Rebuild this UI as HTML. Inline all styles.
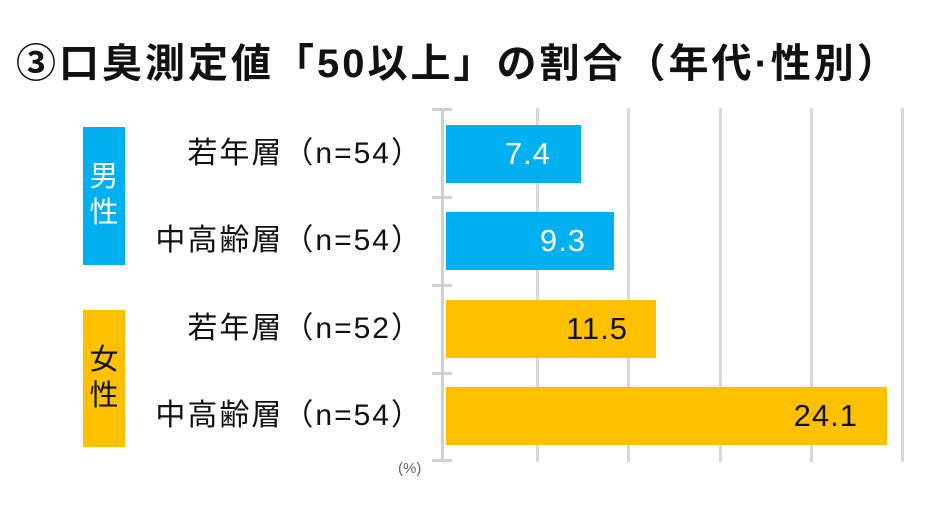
<!DOCTYPE html>
<html><head><meta charset="utf-8"><style>
body{margin:0;width:943px;height:512px;background:#fff;overflow:hidden;position:relative;font-family:"Liberation Sans","Noto Sans CJK JP",sans-serif}
.a{position:absolute}
.t{left:16px;top:36px;font-size:40px;font-weight:bold;color:#111;white-space:nowrap;letter-spacing:3px;line-height:56px}
.g{background:#d9d9d9;width:3px;top:108px;height:354px}
.bar{position:absolute;left:446px;height:58px}
.lab{position:absolute;right:520px;font-size:30px;color:#111;white-space:nowrap;line-height:58px;letter-spacing:2px}
.v{position:absolute;font-size:31px;line-height:58px;text-align:right;letter-spacing:1px}
.box{position:absolute;left:83px;width:42px;color:#fff;font-size:29px;text-align:center;line-height:36px}
</style></head><body>
<div class="a t">③口臭測定値「50以上」の割合（年代·性別）</div>
<div class="a g" style="left:536px"></div>
<div class="a g" style="left:627px"></div>
<div class="a g" style="left:719px"></div>
<div class="a g" style="left:810px"></div>
<div class="a g" style="left:901px"></div>
<div class="a" style="left:441px;top:108px;width:3px;height:354px;background:#d0d0d0"></div>
<div class="a" style="left:432px;top:108px;width:20px;height:3px;background:#d0d0d0"></div>
<div class="a" style="left:432px;top:196px;width:20px;height:3px;background:#d0d0d0"></div>
<div class="a" style="left:432px;top:284px;width:20px;height:3px;background:#d0d0d0"></div>
<div class="a" style="left:432px;top:372px;width:20px;height:3px;background:#d0d0d0"></div>
<div class="a" style="left:432px;top:459px;width:20px;height:3px;background:#d0d0d0"></div>
<div class="bar" style="top:125px;width:135px;background:#00b0f0"></div>
<div class="bar" style="top:212px;width:168px;background:#00b0f0"></div>
<div class="bar" style="top:300px;width:210px;background:#ffc000"></div>
<div class="bar" style="top:387px;width:441px;background:#ffc000"></div>
<div class="v" style="top:125px;left:446px;width:105px;color:#fff">7.4</div>
<div class="v" style="top:212px;left:446px;width:140px;color:#fff">9.3</div>
<div class="v" style="top:300px;left:446px;width:182px;color:#111">11.5</div>
<div class="v" style="top:387px;left:446px;width:412px;color:#111">24.1</div>
<div class="lab" style="top:125px">若年層（n=54）</div>
<div class="lab" style="top:212px">中高齢層（n=54）</div>
<div class="lab" style="top:300px">若年層（n=52）</div>
<div class="lab" style="top:387px">中高齢層（n=54）</div>
<div class="box" style="top:127px;height:138px;background:#00b0f0"><div style="margin-top:32px">男<br>性</div></div>
<div class="box" style="top:310px;height:137px;background:#ffc000;color:#111"><div style="margin-top:32px">女<br>性</div></div>
<div class="a" style="left:398px;top:460px;font-size:15px;color:#666">(%)</div>
</body></html>
